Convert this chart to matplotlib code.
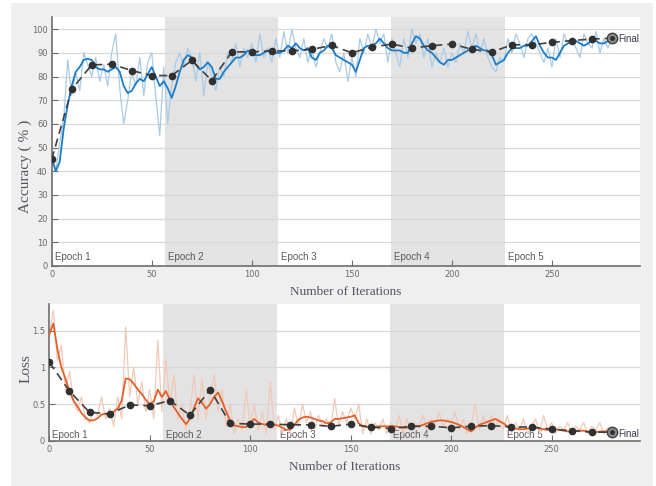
import numpy as np
import matplotlib.pyplot as plt
from matplotlib.patches import Rectangle

# training log, sampled every 2 iterations
iters = np.arange(0, 281, 2)

acc_raw = [45, 40, 52, 62, 87, 72, 82, 74, 90, 85,
           80, 88, 78, 85, 76, 90, 98, 75, 60, 70,
           82, 76, 88, 72, 86, 90, 72, 55, 84, 60,
           76, 86, 90, 84, 92, 88, 78, 90, 72, 86,
           80, 74, 84, 80, 90, 86, 94, 84, 92, 88,
           94, 86, 98, 88, 92, 86, 96, 88, 99, 90,
           100, 92, 88, 96, 86, 92, 84, 90, 96, 92,
           98, 86, 82, 90, 78, 88, 80, 96, 90, 98,
           92, 100, 94, 98, 86, 96, 90, 84, 96, 88,
           100, 94, 98, 88, 96, 84, 90, 86, 92, 84,
           90, 86, 94, 90, 99, 92, 98, 90, 96, 88,
           84, 82, 88, 86, 96, 90, 98, 94, 88, 96,
           98, 94, 90, 86, 92, 84, 96, 88, 98, 94,
           96, 92, 88, 98, 94, 92, 99, 90, 96, 92, 96]

acc_smooth = [46, 40, 44, 58, 68, 76, 82, 84, 87, 87.5,
              87, 84, 83, 83, 82, 83, 84, 82, 76, 73,
              74, 77, 79, 78, 81, 84, 80, 76, 78, 75,
              71, 76, 82, 87, 89, 88, 85, 83, 84, 86,
              84, 79, 79, 82, 84, 86, 88, 88, 89, 91,
              90, 89, 89, 90, 91, 90, 90, 90, 91, 93,
              92, 94, 92, 91, 92, 88, 87, 90, 91, 93,
              92, 89, 88, 87, 86, 85, 82, 87, 92, 93,
              93, 94, 96, 94, 92, 91, 91, 91, 90, 90,
              94, 97, 96, 93, 91, 90, 88, 86, 85, 87,
              87, 88, 89, 90, 91, 92, 93, 92, 91, 91,
              89, 85, 86, 87, 90, 92, 92, 92, 93, 93,
              95, 97, 93, 90, 88, 88, 87, 90, 93, 94,
              95, 95, 94, 93, 94, 95, 95, 94, 94, 95, 95]

loss_raw = [1.45, 1.78, 1.1, 1.3, 0.7, 0.95, 0.55, 0.4, 0.6, 0.3,
            0.25, 0.4, 0.35, 0.6, 0.3, 0.45, 0.2, 0.6, 0.3, 1.55,
            0.6, 1.0, 0.5, 0.8, 0.4, 0.7, 0.3, 1.37, 0.4, 1.1,
            0.5, 0.9, 0.3, 0.5, 0.15, 0.4, 0.9, 0.3, 0.85, 0.3,
            0.6, 0.9, 0.4, 0.7, 0.2, 0.5, 0.1, 0.3, 0.15, 0.7,
            0.2, 0.5, 0.15, 0.4, 0.1, 0.8, 0.15, 0.35, 0.1, 0.3,
            0.1, 0.45, 0.2, 0.5, 0.25, 0.4, 0.15, 0.35, 0.2, 0.3,
            0.15, 0.58, 0.2, 0.4, 0.25, 0.45, 0.3, 0.5, 0.1, 0.3,
            0.1, 0.25, 0.15, 0.3, 0.1, 0.25, 0.15, 0.35, 0.1, 0.3,
            0.15, 0.25, 0.2, 0.35, 0.15, 0.3, 0.2, 0.4, 0.2, 0.3,
            0.25, 0.4, 0.15, 0.3, 0.1, 0.2, 0.5, 0.15, 0.35, 0.2,
            0.35, 0.2, 0.3, 0.15, 0.35, 0.1, 0.25, 0.15, 0.3, 0.1,
            0.2, 0.3, 0.1, 0.35, 0.15, 0.25, 0.1, 0.2, 0.15, 0.25,
            0.1, 0.2, 0.15, 0.25, 0.1, 0.2, 0.15, 0.25, 0.1, 0.18, 0.12]

loss_smooth = [1.45, 1.6, 1.25, 1.0, 0.85, 0.68, 0.55, 0.47, 0.38, 0.32,
               0.28, 0.28, 0.31, 0.36, 0.37, 0.36, 0.4, 0.44, 0.55, 0.85,
               0.84, 0.78, 0.7, 0.64, 0.56, 0.5, 0.54, 0.7, 0.6, 0.68,
               0.56, 0.46, 0.38, 0.3, 0.23, 0.3, 0.45, 0.58, 0.52, 0.44,
               0.5, 0.6, 0.66, 0.54, 0.4, 0.28, 0.21, 0.2, 0.19, 0.19,
               0.25, 0.3, 0.25, 0.23, 0.22, 0.22, 0.22, 0.21, 0.18, 0.15,
               0.16, 0.22, 0.29, 0.32, 0.33, 0.32, 0.3, 0.28, 0.27, 0.24,
               0.25, 0.3, 0.3, 0.31, 0.32, 0.33, 0.35, 0.24, 0.2, 0.19,
               0.18, 0.19, 0.2, 0.2, 0.2, 0.2, 0.2, 0.19, 0.18, 0.18,
               0.19, 0.2, 0.2, 0.22, 0.24, 0.26, 0.27, 0.28, 0.28, 0.27,
               0.26, 0.24, 0.22, 0.19, 0.16, 0.13, 0.18, 0.22, 0.24, 0.26,
               0.28, 0.3, 0.27, 0.24, 0.2, 0.18, 0.17, 0.16, 0.16, 0.17,
               0.17, 0.18, 0.17, 0.16, 0.15, 0.16, 0.16, 0.15, 0.14, 0.13,
               0.13, 0.14, 0.14, 0.14, 0.13, 0.12, 0.12, 0.13, 0.13, 0.13, 0.13]

# validation every 10 iterations
val_iters = np.arange(0, 281, 10)
val_acc = [45, 74.6, 84.9, 85.2, 82.5, 80.4, 80.4, 86.8, 78.3, 90.4,
           90.4, 90.8, 90.8, 91.5, 93.1, 90, 92.4, 93.7, 92, 93,
           93.7, 91.5, 90.3, 93.4, 93.4, 94.4, 95.2, 95.8, 96.2]
val_loss = [1.07, 0.68, 0.39, 0.37, 0.49, 0.48, 0.55, 0.35, 0.70, 0.24,
            0.23, 0.23, 0.22, 0.22, 0.20, 0.23, 0.19, 0.17, 0.20, 0.20,
            0.18, 0.20, 0.21, 0.19, 0.19, 0.16, 0.14, 0.12, 0.12]

epoch_edges = [0, 56.6, 113.2, 169.8, 226.4, 283]
epoch_names = ["Epoch 1", "Epoch 2", "Epoch 3", "Epoch 4", "Epoch 5"]

TICK_C = "#6a6a6a"
LABEL_C = "#55535f"
SERIF = ["Liberation Serif", "DejaVu Serif"]

fig = plt.figure(figsize=(6.56, 4.86), dpi=100)
fig.patch.set_facecolor("white")
fig.patches.append(Rectangle((11 / 656, 0), 642 / 656, 483 / 486,
                             transform=fig.transFigure, facecolor="#efefef",
                             edgecolor="none", zorder=-10))

ax1 = fig.add_axes([0.0788, 0.4527, 0.8968, 0.5117])
ax2 = fig.add_axes([0.0752, 0.0926, 0.9004, 0.2813])


def style_axes(ax, ymax, yticks, yticklabels, epoch_y):
    ax.set_facecolor("white")
    ax.set_xlim(0, 294)
    ax.set_ylim(0, ymax)
    for k in range(5):
        if k % 2 == 1:
            ax.axvspan(epoch_edges[k], epoch_edges[k + 1], color="#e3e3e3", lw=0, zorder=0)
        ax.text(epoch_edges[k] + 1.5, epoch_y, epoch_names[k], fontsize=7,
                color="#5a5a5a", family="Liberation Sans", zorder=1)
    ax.set_yticks(yticks)
    ax.set_yticklabels(yticklabels)
    ax.set_xticks([0, 50, 100, 150, 200, 250])
    ax.grid(axis="y", color="#d8d8d8", lw=0.9, zorder=0.5)
    ax.set_axisbelow(True)
    for s in ("top", "right"):
        ax.spines[s].set_visible(False)
    for s in ("left", "bottom"):
        ax.spines[s].set_color("#6e6e6e")
        ax.spines[s].set_linewidth(1.2)
    ax.tick_params(direction="in", length=4, width=0.8, color="#6e6e6e",
                   labelsize=6, labelcolor=TICK_C, pad=3)
    ax.set_xlabel("Number of Iterations", fontsize=9.5, family=SERIF,
                  color=LABEL_C, labelpad=5)


def draw_series(ax, raw, smooth, val, raw_c, smooth_c, text_dy):
    ax.plot(iters, raw, color=raw_c, lw=0.9, zorder=2)
    ax.plot(iters, smooth, color=smooth_c, lw=1.3, zorder=3)
    ax.plot(val_iters, val, color="#404040", lw=1.2, ls=(0, (5, 3)),
            marker="o", ms=4.5, mfc="#303030", mec="#303030", zorder=4)
    ax.plot(val_iters[-1:], val[-1:], "o", ms=7.5, mfc="#8a8a8a",
            mec="#404040", mew=1, zorder=5)
    ax.plot(val_iters[-1:], val[-1:], "o", ms=3.5, mfc="#303030",
            mec="none", zorder=6)
    ax.text(val_iters[-1] + 3, val[-1] + text_dy, "Final", fontsize=7,
            color="#3a3a50", va="center", family="Liberation Sans", zorder=6)


style_axes(ax1, 105, np.arange(0, 101, 10), [str(v) for v in range(0, 101, 10)], 2.5)
ax1.set_ylabel("Accuracy ( % )", fontsize=11, family=SERIF, color=LABEL_C)
ax1.yaxis.set_label_coords(-0.033, 0.40)
draw_series(ax1, acc_raw, acc_smooth, val_acc, "#a9cbe6", "#1c7cc8", -0.5)

style_axes(ax2, 1.86, [0, 0.5, 1, 1.5], ["0", "0.5", "1", "1.5"], 0.045)
ax2.set_ylabel("Loss", fontsize=11, family=SERIF, color=LABEL_C)
ax2.yaxis.set_label_coords(-0.029, 0.53)
draw_series(ax2, loss_raw, loss_smooth, val_loss, "#f1c9b8", "#e4602a", -0.02)

fig.savefig("out.png", dpi=100)
